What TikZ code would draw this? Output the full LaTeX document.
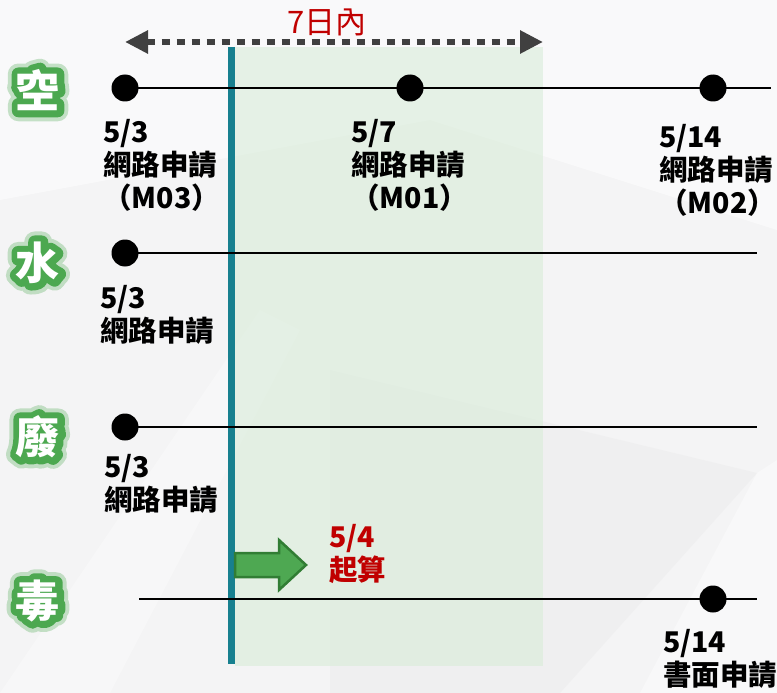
\documentclass[tikz,border=0pt]{standalone}
\usepackage{fontspec}
\setmainfont{Noto Sans CJK TC}
\newfontfamily\glowfont{Noto Sans CJK TC}[BoldFeatures={FakeBold=30}]
\newfontfamily\haloglow{Noto Sans CJK TC}[BoldFeatures={FakeBold=48}]
\usetikzlibrary{arrows.meta}
\usetikzlibrary{positioning}
\definecolor{bgbase}{RGB}{244,244,245}
\definecolor{tealline}{RGB}{23,128,143}
\definecolor{shadegreen}{RGB}{214,236,214}
\definecolor{glowgreen}{RGB}{76,168,80}
\definecolor{arrowgreen}{RGB}{78,168,82}
\definecolor{arrowedge}{RGB}{49,125,52}
\definecolor{darkred}{RGB}{192,0,0}
\definecolor{spangray}{RGB}{64,64,64}
\newcommand{\startarrow}{\filldraw[draw=arrowedge, fill=arrowgreen, line width=2.5pt]
					(0,-12) -- (44,-12) -- (44,-25) -- (71,0) -- (44,25) -- (44,12) -- (0,12) -- cycle;}
\newcommand{\glowchar}[3]{\node[bigchar, font=\fontsize{44}{44}\selectfont\haloglow\bfseries, text=glowgreen, opacity=0.3] (#1-halo) at (#2) {#3};
					\node[bigchar, font=\fontsize{44}{44}\selectfont\glowfont\bfseries, text=glowgreen] (#1-rim) at (#2) {#3};
					\node[bigchar, text=white] (#1) at (#2) {#3};}
\tikzset{
	bigchar/.style={font=\fontsize{44}{44}\selectfont\bfseries, inner sep=0pt, line join=round},
	evtext/.style={font=\fontsize{28.5}{33}\selectfont\bfseries, align=left, anchor=north west, inner sep=0pt},
	evdot/.style={circle, fill=black, minimum size=27pt, inner sep=0pt},
	rowline/.style={draw=black, line width=2pt},
	spanline/.style={draw=spangray, line width=6.5pt, dash pattern=on 8pt off 7pt,
		{Triangle[length=23pt,width=22pt]}-{Triangle[length=23pt,width=22pt]}}
}

\begin{document}
\begin{tikzpicture}[x=1pt, y=-1pt]
					\useasboundingbox (0,0) rectangle (777,693);
					
					% background
					\fill[bgbase] (0,0) rectangle (777,693);
					\fill[white, opacity=0.5] (0,0) -- (777,0) -- (777,230) -- (430,120) -- (0,200) -- cycle;
					\fill[gray!20, opacity=0.3] (330,370) -- (757,473) -- (560,693) -- (330,693) -- cycle;
					\fill[white, opacity=0.4] (757,473) -- (777,460) -- (777,693) -- (640,693) -- cycle;
					\fill[white, opacity=0.3] (0,693) -- (110,693) -- (300,330) -- (260,310) -- cycle;
					
					% seven day window
					\fill[shadegreen, opacity=0.55] (235,47) rectangle (543,666);
					\coordinate (spanL) at (125,42);
					\coordinate (spanR) at (543,42);
					\draw[spanline] (spanL) -- (spanR);
					\node[font=\fontsize{31}{31}\selectfont, text=darkred, inner sep=0pt] (spantext) at (327,22) {7日內};
					
					\coordinate (cutTop) at (231,47);
					\coordinate (cutBot) at (231,664);
					\draw[tealline, line width=7pt] (cutTop) -- (cutBot);
					
					% rows
					\glowchar{kong}{38,90}{空}
					\glowchar{shui}{38,263}{水}
					\glowchar{fei}{38,437}{廢}
					\glowchar{du}{38,601}{毒}
					
					\node[evdot] (kongA) at (125,88) {};
					\node[evdot] (kongB) at (410,88) {};
					\node[evdot] (kongC) at (713,88) {};
					\coordinate (kongEnd) at (771,88);
					\draw[rowline] (kongA.center) -- (kongEnd);
					
					\node[evdot] (shuiA) at (125,253) {};
					\coordinate (shuiEnd) at (757,253);
					\draw[rowline] (shuiA.center) -- (shuiEnd);
					
					\node[evdot] (feiA) at (125,427) {};
					\coordinate (feiEnd) at (757,427);
					\draw[rowline] (feiA.center) -- (feiEnd);
					
					\coordinate (duStart) at (139,599);
					\node[evdot] (duA) at (713,599) {};
					\coordinate (duEnd) at (757,599);
					\draw[rowline] (duStart) -- (duEnd);
					
					% dates
					\node[evtext] (kongAt) at (103,119) {5/3\\網路申請\\（M03）};
					\node[evtext] (kongBt) at (351,119) {5/7\\網路申請\\（M01）};
					\node[evtext] (kongCt) at (659,124) {5/14\\網路申請\\（M02）};
					\node[evtext] (shuiAt) at (100,285) {5/3\\網路申請};
					\node[evtext] (feiAt) at (104,454) {5/3\\網路申請};
					\node[evtext] (duAt) at (663,629) {5/14\\書面申請};
					
					% start of count
					\begin{scope}[shift={(235,565)}]
						\startarrow
					\end{scope}
					\node[evtext, text=darkred] (startt) at (329,524) {5/4\\起算};
					
				\end{tikzpicture}
\end{document}
